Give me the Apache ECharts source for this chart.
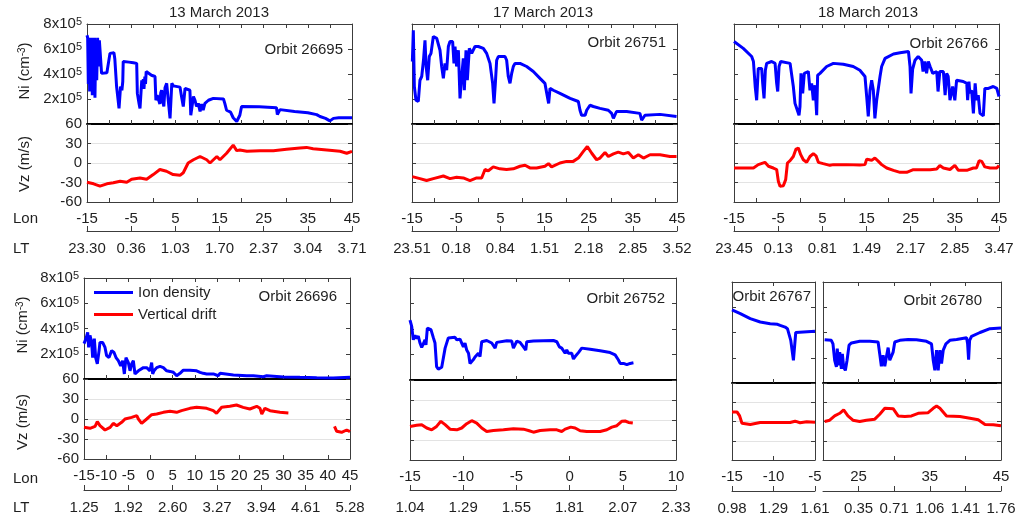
<!DOCTYPE html>
<html><head><meta charset="utf-8">
<script src="https://cdn.jsdelivr.net/npm/echarts@6/dist/echarts.min.js"></script>
<style>html,body{margin:0;padding:0;background:#fff}#c{width:1018px;height:522px}</style>
</head><body><div id="c"></div>
<script>
// ---------- DATA (longitude, value); Ni in units of 1e5 cm^-3, Vz in m/s ----------
const ni26695 = [[-15,7.1],[-14.85,6.9],[-14.7,3.2],[-14.55,6.9],[-14.4,2.6],[-14.25,6.8],[-14.1,3.6],[-13.95,6.9],[-13.8,2.3],[-13.6,6.8],[-13.45,3.0],[-13.3,6.9],[-13.2,2.1],[-13.0,6.6],[-12.8,3.5],[-12.6,6.9],[-12.4,4.6],[-12.2,6.7],[-12.06,6.85],[-11.7,4.05],[-11.3,3.9],[-10.5,4.1],[-9.8,5.65],[-9.4,5.8],[-8.9,5.7],[-8.7,5.2],[-8.3,3.0],[-7.95,1.9],[-7.75,1.25],[-7.4,3.0],[-7.1,2.7],[-6.9,3.4],[-6.8,5.0],[-5.5,4.95],[-4.5,4.9],[-3.75,4.85],[-3.6,2.45],[-3.2,1.6],[-3.0,1.25],[-2.6,3.5],[-2.4,2.9],[-2.25,3.6],[-2.1,2.8],[-1.9,3.8],[-1.75,3.2],[-1.6,4.2],[-1.2,4.1],[-0.4,3.9],[0.4,3.8],[0.6,1.9],[0.9,2.3],[1.15,2.0],[1.5,1.6],[1.7,2.5],[1.9,2.7],[2.1,1.9],[2.4,1.4],[2.66,2.9],[3.04,3.25],[3.4,1.9],[3.8,0.45],[4.2,3.25],[4.55,3.05],[6.06,2.95],[6.4,2.2],[6.8,1.4],[7.2,2.85],[8.3,2.7],[8.5,0.7],[9.1,2.2],[9.45,1.9],[9.8,1.4],[10.2,1.65],[10.6,1.0],[10.96,1.6],[11.3,1.1],[11.7,1.65],[12.5,1.9],[13.6,2.05],[15.9,2.0],[16.2,1.65],[16.6,1.1],[17.5,0.95],[18.1,0.5],[18.9,0.2],[19.6,0.7],[20.0,1.4],[24,1.38],[27.9,1.3],[28.1,0.75],[28.3,0.9],[28.7,1.15],[32,1.0],[35,0.9],[37,0.75],[37.75,0.6],[39,0.45],[40,0.25],[40.8,0.45],[42,0.5],[45,0.5]];
const vz26695 = [[-15,-29.7],[-13.5,-32],[-12.06,-35.6],[-10.5,-32],[-9.04,-30.5],[-7.5,-28],[-6.0,-29.7],[-4.9,-25],[-3,-23],[-1.5,-25],[0,-17.8],[1.5,-10],[3,-12.7],[4.5,-17.8],[6.06,-19],[6.8,-15],[7.9,0],[9.1,5],[10.6,10],[12.1,5],[12.85,0],[14.4,10],[15.1,5],[16.6,15],[18.1,27.5],[18.9,19],[19.6,20],[21.2,18],[24.2,19],[27.2,19],[30.2,21],[33.2,23],[34.7,24],[36.2,22],[39.3,20],[42.3,18],[43.8,15],[45,18]];

const ni26751 = [[-14.92,5.0],[-14.7,7.5],[-14.47,3.0],[-14.1,1.9],[-13.57,1.8],[-13.2,3.5],[-12.8,3.8],[-12.4,5.1],[-12.06,6.7],[-11.8,4.6],[-11.45,3.5],[-11.08,5.4],[-10.7,5.65],[-10.17,7.0],[-9.4,6.85],[-8.66,5.9],[-8.28,4.6],[-7.9,3.65],[-7.53,4.85],[-7.15,4.3],[-6.77,6.2],[-6.4,6.6],[-5.8,6.6],[-5.5,4.85],[-5.26,6.2],[-4.9,4.6],[-4.5,5.9],[-4.13,2.05],[-3.75,3.8],[-3.38,5.25],[-3.15,2.7],[-2.77,5.9],[-2.47,3.5],[-2.02,6.05],[-1.49,5.65],[-0.74,6.2],[0.02,6.2],[1.15,6.05],[1.9,5.65],[2.66,4.85],[3.26,3.25],[3.57,1.65],[3.87,3.25],[4.17,5.1],[4.55,5.4],[6.06,5.4],[6.43,5.1],[6.8,3.8],[7.19,3.25],[7.57,4.05],[7.94,4.6],[8.32,4.85],[9.45,4.85],[10.96,4.6],[12.47,4.2],[13.98,3.65],[15.1,3.25],[15.64,2.2],[15.94,1.65],[16.25,2.85],[17,2.7],[18.5,2.45],[20.8,2.05],[22.66,1.8],[23.04,1.1],[23.4,0.7],[24.2,0.7],[24.55,1.1],[25.3,1.5],[26.06,1.4],[27.57,1.25],[29.45,1.1],[30.2,0.85],[30.6,0.45],[31,0.55],[31.3,1.0],[33.6,1.0],[36.6,0.85],[37,0.3],[37.4,0.2],[37.75,0.7],[41.15,0.77],[44.9,0.6]];
const vz26751 = [[-14.92,-21],[-13.2,-24],[-11.7,-27],[-10.17,-24],[-7.9,-20],[-6.4,-24],[-4.9,-22],[-3.38,-23],[-1.87,-27],[-0.36,-23],[0.77,-23],[1.53,-10],[2.28,-12],[3.4,-6],[4.9,-9],[6.4,-10],[7.94,-9],[9.45,-5],[10.6,-3.5],[11.7,-7.6],[13.2,-7.6],[15.1,-5],[15.9,-1],[16.6,-6],[18.5,0],[20,2.5],[21.5,2.5],[22.66,7.6],[23.8,17.8],[24.7,25.4],[25.7,15],[26.8,5],[27.57,7.6],[28.7,16.3],[29.45,10],[30.6,14],[31.7,16.8],[32.85,14],[34,16.3],[35.1,7.6],[36.25,12.7],[37.4,7.6],[38.9,12.7],[41.15,12.7],[43.4,10],[44.9,10]];

const ni26766 = [[-15,6.6],[-12.9,6.05],[-11,5.4],[-10.6,5.0],[-10.2,3.0],[-9.87,1.9],[-9.5,4.45],[-9.1,4.6],[-8.74,4.45],[-8.5,3.25],[-8.2,2.05],[-7.9,4.3],[-7.6,4.85],[-6.47,5.0],[-5.7,4.85],[-5.34,3.25],[-5.1,2.6],[-4.8,4.6],[-4.43,5.0],[-2.3,4.85],[-1.57,3.0],[-1.19,1.65],[-0.66,1.1],[-0.28,0.7],[-0.06,1.4],[0.17,4.05],[0.55,2.45],[0.92,4.05],[1.3,4.2],[1.83,4.2],[2.2,2.7],[2.58,3.25],[2.96,1.9],[3.34,3.1],[3.72,0.7],[3.94,3.9],[4.47,4.05],[5.98,4.6],[7.5,4.85],[9.75,4.78],[12.0,4.6],[13.5,4.3],[14.66,3.8],[15.04,2.2],[15.4,0.6],[15.8,2.7],[16.17,3.5],[16.55,2.7],[16.9,0.45],[17.3,1.9],[18.06,3.8],[18.43,4.6],[19.2,5.25],[21.1,5.6],[22.6,5.7],[24.5,5.8],[24.85,4.6],[25.08,2.45],[25.45,4.4],[25.98,5.1],[26.7,5.4],[27.5,5.1],[27.8,4.2],[28.2,5.0],[28.6,4.05],[29,5.0],[29.4,4.6],[30.0,4.05],[30.9,4.2],[31.2,2.6],[31.6,4.2],[32.4,4.2],[32.8,2.3],[33.15,4.05],[33.5,3.8],[33.9,1.9],[34.3,1.9],[34.5,3.0],[35.0,1.9],[35.4,3.5],[36.9,3.4],[37.7,3.25],[37.9,1.9],[38.2,3.4],[38.4,2.45],[38.8,2.7],[39.2,0.85],[39.6,3.25],[39.9,1.9],[40.3,2.3],[40.7,0.85],[41.1,0.7],[41.45,0.65],[41.8,2.85],[42.6,2.85],[43.7,3.0],[44.5,2.85],[45,2.2]];
const vz26766 = [[-15,-7.7],[-10.6,-7.7],[-9.5,-2.5],[-8,1],[-7.2,-5],[-6.1,-7.7],[-5.34,-10],[-4.96,-28],[-4.58,-36],[-3.83,-35],[-3.3,-25.6],[-2.9,0],[-2.3,3.6],[-1.57,10],[-0.96,21.5],[-0.43,23],[0.1,12.8],[0.7,5],[1.45,1],[2.2,10],[2.96,14.4],[3.57,11],[4.1,1],[5.2,-1],[6.7,-3.6],[7.5,-2.5],[10.5,-2.5],[13.5,-3],[14.66,-2.5],[15.04,6],[15.64,5],[16.17,4],[16.9,7.7],[17.7,2.5],[18.43,-2.5],[19.57,-7.7],[21.1,-11.3],[22.6,-14.4],[24.1,-14.4],[25.6,-10.3],[27.1,-10.3],[29.4,-10.3],[30.9,-9.2],[31.6,-4],[32.4,-7.7],[33.9,-10],[35.0,-3.6],[35.8,-11.3],[37.7,-11.3],[39.2,-7.7],[39.9,-7.7],[40.5,3.6],[41.1,2.5],[41.8,-6],[43,-7.7],[44.5,-7.7],[45,-4]];

const ni26696 = [[-15,2.8],[-14.55,3.2],[-14.17,3.7],[-13.95,2.5],[-13.65,3.45],[-13.27,2.9],[-13.05,1.7],[-12.67,3.2],[-12.37,1.7],[-12.0,1.2],[-11.6,2.25],[-11.4,2.9],[-10.8,2.9],[-10.26,2.5],[-9.9,1.85],[-9.36,1.7],[-8.76,2.25],[-8.23,2.1],[-7.78,1.7],[-7.26,1.45],[-6.73,1.05],[-6.28,1.45],[-5.9,0.4],[-5.53,1.7],[-5.0,1.3],[-4.62,0.65],[-4.25,1.2],[-3.87,1.45],[-3.5,0.4],[-3.12,0.25],[-2.74,0.65],[-2.37,0.8],[-1.6,0.9],[-0.86,0.9],[-0.11,0.65],[0.26,1.3],[0.49,0.4],[0.79,0.65],[1.4,0.9],[2.14,1.0],[2.9,0.9],[3.65,0.65],[4.4,0.6],[5.15,0.53],[5.9,0.26],[6.65,0.45],[7.4,0.7],[8.9,0.7],[10.4,0.65],[11.17,0.53],[11.9,0.45],[12.67,0.4],[14.17,0.4],[15.3,0.26],[15.68,0.45],[18.7,0.32],[21.7,0.26],[23.2,0.26],[25.45,0.18],[26.2,0.26],[29.96,0.16],[33.7,0.13],[37.5,0.1],[41.2,0.08],[45,0.13]];
const vz26696 = [[-15,-12.5],[-13.65,-14],[-12.5,-11],[-12,-4],[-11.4,-10],[-10.26,-16.5],[-9.1,-12.5],[-8.4,-6.5],[-7.6,-10],[-6.5,-5],[-5.75,0],[-4.25,2.5],[-3.1,5],[-2.74,0],[-2.0,-6.5],[-0.86,0],[0.26,6.5],[1.4,7.5],[2.9,10],[4.4,11.5],[5.9,10],[7.0,12.5],[8.9,16],[10.4,17.5],[12.67,16],[14.17,12.5],[14.9,8.5],[16.05,17.5],[17.9,19],[19.4,21],[20.9,17.5],[22.4,15],[23.95,19],[24.7,16],[25.1,7.5],[25.8,16],[26.95,12.5],[29.2,10],[31.1,9],[36,null],[41.5,-11],[42,-18.5],[43.1,-20],[44.25,-16.5],[45,-19]];

const ni26752 = [[-15,4.7],[-14.84,4.2],[-14.69,3.15],[-14.53,3.5],[-14.37,3.25],[-14.22,3.45],[-14.06,2.9],[-13.9,2.55],[-13.75,2.6],[-13.59,3.15],[-13.5,2.75],[-13.37,4.07],[-13.21,4.2],[-13.03,3.95],[-12.8,3.3],[-12.65,2.9],[-12.5,1.05],[-12.34,0.85],[-12.18,0.92],[-12.02,1.0],[-11.87,1.0],[-11.7,2.5],[-11.55,2.58],[-11.4,3.3],[-11.24,3.45],[-10.77,3.35],[-10.6,3.15],[-10.3,3.2],[-10.14,2.9],[-9.98,2.6],[-9.83,2.9],[-9.67,2.35],[-9.5,2.1],[-9.36,1.3],[-9.2,1.2],[-9.04,1.6],[-8.89,1.8],[-8.73,1.78],[-8.57,2.1],[-8.42,1.84],[-8.26,3.0],[-8.1,3.15],[-7.79,3.1],[-7.63,3.15],[-7.32,2.9],[-7.0,2.5],[-6.85,2.95],[-6.69,3.1],[-5.9,3.08],[-5.44,3.05],[-5.28,2.5],[-5.13,2.75],[-4.97,3.05],[-4.66,2.95],[-4.34,2.6],[-4.12,2.35],[-4.03,3.0],[-3.4,3.05],[-2.46,3.08],[-1.52,3.1],[-1.2,3.0],[-0.96,2.6],[-0.74,2.5],[-0.58,2.35],[-0.42,2.1],[-0.27,2.35],[-0.11,2.1],[0.05,1.97],[0.2,2.1],[0.36,1.65],[0.52,1.84],[0.83,2.15],[1.14,2.5],[1.93,2.42],[2.87,2.3],[3.81,2.15],[4.28,1.97],[4.59,1.57],[4.75,1.3],[5.06,1.3],[5.38,1.2],[5.69,1.3],[6.0,1.35]];
const vz26752 = [[-15,-9.6],[-14.37,-8],[-13.9,-7],[-13.43,-12],[-12.96,-14.7],[-12.5,-9.6],[-12.1,-2],[-11.7,-7],[-11.24,-13.7],[-10.6,-14.7],[-10.14,-12],[-9.67,-5.6],[-9.2,-1],[-8.73,-4.6],[-8.26,-12],[-7.79,-17.3],[-7.16,-15.7],[-6.22,-14.7],[-5.28,-13.2],[-4.34,-13.7],[-3.87,-15.7],[-3.4,-18.3],[-2.77,-15.7],[-1.83,-14.7],[-1.2,-14.7],[-0.74,-17.3],[-0.42,-13.7],[0.11,-10.7],[0.52,-12],[0.99,-16.2],[1.61,-17.3],[2.87,-17.3],[3.5,-14.7],[3.97,-10.7],[4.44,-8.6],[4.9,-2],[5.22,-1.5],[5.53,-3.6],[5.94,-4.6]];

const ni26767 = [[-15,5.8],[-14,5.5],[-12.8,5.1],[-11.6,4.83],[-10.4,4.7],[-9.52,4.65],[-9.4,4.78],[-9.2,4.56],[-8.6,4.43],[-8.32,4.3],[-8.08,4.17],[-7.92,3.38],[-7.76,3.38],[-7.6,1.8],[-7.48,1.8],[-7.32,4.0],[-7.12,4.1],[-5,4.1]];
const vz26767 = [[-15,15],[-14.4,15],[-14.08,8.7],[-13.8,-2.6],[-13.6,-5.6],[-12.8,-4.6],[-11.6,-1.5],[-10.8,-1.5],[-9.6,-1.5],[-8,-1.5],[-7.4,0.5],[-6.8,-2],[-6,-0.5],[-5,-1]];

const ni26780 = [[20.23,3.43],[21.17,3.38],[21.4,3.1],[21.64,1.8],[21.88,1.27],[22.0,2.72],[22.2,1.4],[22.35,2.45],[22.58,1.13],[22.72,2.3],[22.9,1.27],[23.14,1.0],[23.38,1.8],[23.66,3.0],[24.0,3.17],[25.16,3.3],[26.57,3.3],[27.74,3.25],[27.97,2.3],[28.2,1.32],[28.44,2.2],[28.68,1.32],[28.9,2.05],[29.15,2.8],[29.38,1.8],[29.6,1.67],[29.85,2.45],[30.08,3.25],[30.79,3.38],[31.96,3.45],[33.13,3.43],[34.54,3.3],[35.24,3.1],[35.48,1.8],[35.71,1.0],[35.95,2.6],[36.18,1.0],[36.42,2.6],[36.65,1.53],[36.89,2.6],[37.26,3.1],[37.82,3.38],[38.76,3.45],[40.17,3.58],[40.31,3.1],[40.45,1.85],[40.59,3.38],[40.87,3.7],[42.05,4.0],[43.45,4.3],[45,4.35]];
const vz26780 = [[20.23,0],[20.94,2],[21.64,8.7],[22.35,12.8],[22.9,18],[23.5,8.7],[24.2,2],[25.16,0],[26.1,2],[27.27,3.6],[27.97,11.3],[28.68,20.5],[29.85,20],[30.55,8.7],[31.5,7.7],[32.43,8.7],[33.37,12.8],[34.77,13.8],[35.48,20.5],[35.95,24],[36.42,20.5],[37.35,8.7],[39.23,7.7],[40.64,5],[41.8,2.6],[42.75,-4.6],[43.92,-5],[45,-6.7]];

// tick labels
const lonTop = [-15,-5,5,15,25,35,45];
const lt26695 = ['23.30','0.36','1.03','1.70','2.37','3.04','3.71'];
const lt26751 = ['23.51','0.18','0.84','1.51','2.18','2.85','3.52'];
const lt26766 = ['23.45','0.13','0.81','1.49','2.17','2.85','3.47'];
const lon26696 = [-15,-10,-5,0,5,10,15,20,25,30,35,40,45];
const ltPos26696 = [-15,-5,5,15,25,35,45];
const lt26696 = ['1.25','1.92','2.60','3.27','3.94','4.61','5.28'];
const lon26752 = [-15,-10,-5,0,5,10];
const lt26752 = ['1.04','1.29','1.55','1.81','2.07','2.33'];
const lon26767 = [-15,-10,-5];
const lt26767 = ['0.98','1.29','1.61'];
const lon26780 = [25,35,45];
const ltPos26780 = [25,30,35,40,45];
const lt26780 = ['0.35','0.71','1.06','1.41','1.76'];
const niTicks = [0,2,4,6,8];
const vzTicks = [-60,-30,0,30,60];

// ---------- LAYOUT ----------
const FONT = '"Liberation Sans", Arial, Helvetica, sans-serif';
const TXT = '#1f1f1f', FRAME = '#3c3c3c';
const panels = [
  {ni:ni26695, vz:vz26695, left:87, width:265, top:24, hNi:100, hVz:78, ltY:231, xmin:-15, xmax:45, lon:lonTop, ltPos:lonTop, lt:lt26695, yl:true},
  {ni:ni26751, vz:vz26751, left:412, width:265, top:24, hNi:100, hVz:78, ltY:231, xmin:-15, xmax:45, lon:lonTop, ltPos:lonTop, lt:lt26751},
  {ni:ni26766, vz:vz26766, left:734, width:265, top:24, hNi:100, hVz:78, ltY:231, xmin:-15, xmax:45, lon:lonTop, ltPos:lonTop, lt:lt26766},
  {ni:ni26696, vz:vz26696, left:84, width:266, top:278, hNi:101, hVz:80, ltY:490, xmin:-15, xmax:45, lon:lon26696, ltPos:ltPos26696, lt:lt26696, yl:true},
  {ni:ni26752, vz:vz26752, left:410, width:266, top:278, hNi:102, hVz:80, ltY:490, xmin:-15, xmax:10, lon:lon26752, ltPos:lon26752, lt:lt26752},
  {ni:ni26767, vz:vz26767, left:732, width:83, top:282, hNi:101, hVz:77, ltY:491, xmin:-15, xmax:-5, lon:lon26767, ltPos:lon26767, lt:lt26767},
  {ni:ni26780, vz:vz26780, left:823, width:178, top:282, hNi:101, hVz:77, ltY:491, xmin:20, xmax:45, lon:lon26780, ltPos:ltPos26780, lt:lt26780}
];

const grids = [], xAxes = [], yAxes = [], series = [];
function inner(min, max, step) { const a = []; for (let v = Math.ceil(min / step) * step; v < max; v += step) if (v > min) a.push(v); return a; }
const lbl = (extra) => Object.assign({show:true, fontSize:15, fontFamily:FONT, color:TXT}, extra);
function xAx(gi, pos, p, o) {
  return {type:'value', gridIndex:gi, position:pos, min:p.xmin, max:p.xmax,
    axisLine:{show:true, onZero:false, lineStyle:o.line},
    axisTick:{show:o.ticks.length>0, inside:true, length:o.tlen||4, customValues:o.ticks, lineStyle:{color:FRAME}},
    axisLabel:o.labels ? lbl({customValues:o.labels, formatter:o.fmt, margin:o.margin}) : {show:false},
    splitLine:{show:false}, axisPointer:{show:false}};
}
function yAx(gi, pos, ticks, o) {
  return {type:'value', gridIndex:gi, position:pos, min:ticks[0], max:ticks[ticks.length-1], interval:ticks[1]-ticks[0],
    axisLine:{show:true, onZero:false, lineStyle:{color:FRAME, width:1}},
    axisTick:{show:true, inside:true, length:4, lineStyle:{color:FRAME}},
    axisLabel:o.labels ? lbl({margin:5, formatter:o.fmt, rich:{s:{fontSize:11, fontFamily:FONT, color:TXT, verticalAlign:'top'}}}) : {show:false},
    splitLine:{show:!!o.split, lineStyle:{color:'#e3e3e3', width:1}}, axisPointer:{show:false}};
}
panels.forEach(p => {
  const gN = grids.length;
  grids.push({left:p.left, top:p.top, width:p.width, height:p.hNi, outerBoundsMode:'none'});
  grids.push({left:p.left, top:p.top + p.hNi, width:p.width, height:p.hVz, outerBoundsMode:'none'});
  grids.push({left:p.left, top:p.ltY - 10, width:p.width, height:10, outerBoundsMode:'none'});
  const t5 = inner(p.xmin, p.xmax, 5), t10 = inner(p.xmin, p.xmax, 10);
  const xNi = xAxes.length;
  xAxes.push(xAx(gN, 'bottom', p, {line:{color:'#000', width:2}, ticks:t5}));
  xAxes.push(xAx(gN, 'top', p, {line:{color:FRAME, width:1}, ticks:t5}));
  const xVz = xAxes.length;
  xAxes.push(xAx(gN + 1, 'bottom', p, {line:{color:FRAME, width:1}, ticks:t10, labels:p.lon, margin:9}));
  const lt = p.lt, lp = p.ltPos;
  xAxes.push(xAx(gN + 2, 'bottom', p, {line:{color:FRAME, width:1}, ticks:lp, tlen:5, labels:lp, margin:10,
    fmt:(v) => { const i = lp.indexOf(v); return i >= 0 ? lt[i] : ''; }}));
  const yNi = yAxes.length;
  yAxes.push(yAx(gN, 'left', niTicks, {labels:p.yl, fmt:(v) => v === 0 ? '' : v + 'x10{s|5}'}));
  yAxes.push(yAx(gN, 'right', niTicks, {}));
  const yVz = yAxes.length;
  yAxes.push(yAx(gN + 1, 'left', vzTicks, {labels:p.yl, split:true, fmt:(v) => String(v)}));
  yAxes.push(yAx(gN + 1, 'right', vzTicks, {}));
  yAxes.push({type:'value', gridIndex:gN + 2, show:false, min:0, max:1});
  series.push({type:'line', name:'Ion density', xAxisIndex:xNi, yAxisIndex:yNi, data:p.ni, symbol:'none',
    color:'#0000ff', lineStyle:{width:3, color:'#0000ff'}, z:3, silent:true});
  series.push({type:'line', name:'Vertical drift', xAxisIndex:xVz, yAxisIndex:yVz, data:p.vz, symbol:'none',
    color:'#ff0000', lineStyle:{width:3, color:'#ff0000'}, z:3, silent:true, connectNulls:false});
});

const txt = (text, x, y, align, extra) => Object.assign({type:'text', x, y, silent:true,
  style:{text, fontSize:15, fontFamily:FONT, fill:TXT, align:align, verticalAlign:'middle',
    rich:{sup:{fontSize:10, fontFamily:FONT, fill:TXT, verticalAlign:'top'}}}}, extra || {});
const graphics = [
  txt('13 March 2013', 219, 13, 'center'), txt('17 March 2013', 543, 13, 'center'), txt('18 March 2013', 868, 13, 'center'),
  txt('Orbit 26695', 343, 50, 'right'), txt('Orbit 26751', 666, 43, 'right'), txt('Orbit 26766', 988, 44, 'right'),
  txt('Orbit 26696', 337, 297, 'right'), txt('Orbit 26752', 665, 299, 'right'), txt('Orbit 26767', 811, 297, 'right'),
  txt('Orbit 26780', 982, 301, 'right'),
  txt('Ni (cm{sup|-3})', 25, 71, 'center', {rotation:Math.PI / 2}), txt('Vz (m/s)', 25, 164, 'center', {rotation:Math.PI / 2}),
  txt('Ni (cm{sup|-3})', 23, 325, 'center', {rotation:Math.PI / 2}), txt('Vz (m/s)', 23, 422, 'center', {rotation:Math.PI / 2}),
  txt('Lon', 13, 219, 'left'), txt('LT', 13, 249, 'left'), txt('Lon', 13, 479, 'left'), txt('LT', 13, 508, 'left')
];

const chart = echarts.init(document.getElementById('c'), null, {renderer:'canvas'});
chart.setOption({
  animation:false, backgroundColor:'#fff',
  grid:grids, xAxis:xAxes, yAxis:yAxes, series:series,
  legend:{data:['Ion density','Vertical drift'], orient:'vertical', left:94, top:284, icon:'rect', itemWidth:39, itemHeight:3,
    itemGap:5, padding:0, selectedMode:false, textStyle:{fontSize:15, fontFamily:FONT, color:TXT, lineHeight:17}},
  graphic:graphics
});
</script></body></html>
